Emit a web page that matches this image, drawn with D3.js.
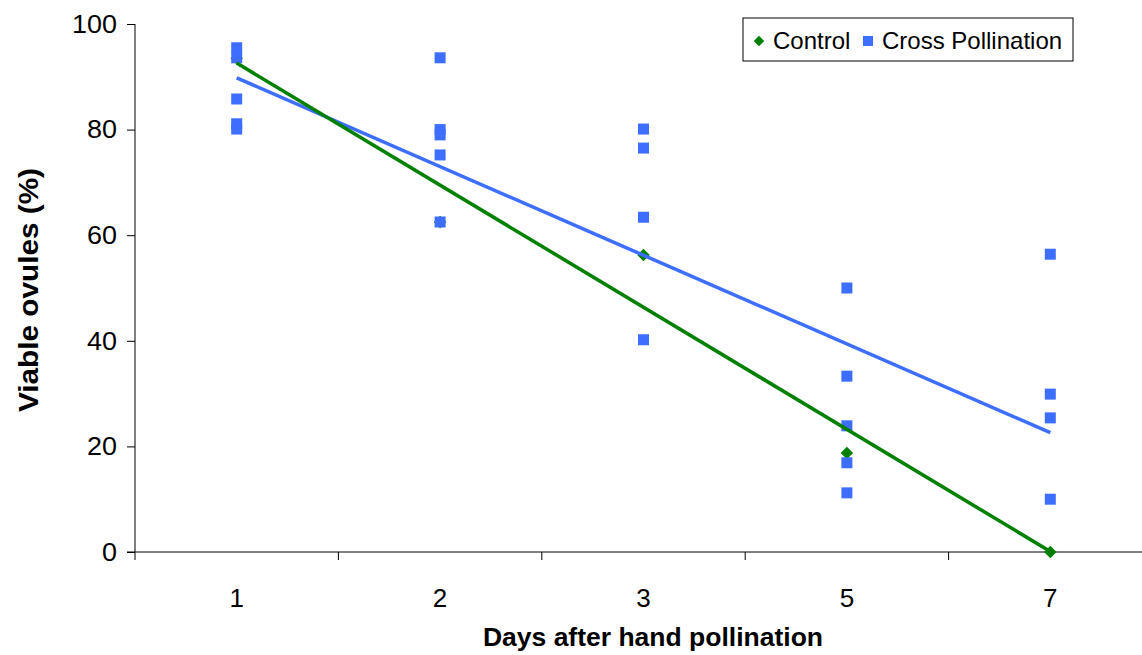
<!DOCTYPE html>
<html>
<head>
<meta charset="utf-8">
<script src="https://cdn.jsdelivr.net/npm/d3@7"></script>
<style>
  body { margin: 0; background: #fff; }
  svg { display: block; font-family: "Liberation Sans", Arial, sans-serif; }
</style>
</head>
<body>
<div id="chart"></div>
<script>
// days after pollination (categorical axis)
var days = ["1", "2", "3", "5", "7"];
// control: one value per day
var controlValues = [93.5, 62.5, 56.25, 18.75, 0];
// cross pollination: several samples per day
var crossValues = [
    [95.5, 93.6, 85.8, 81.1, 80.1],
    [93.6, 80.0, 79.0, 75.2, 62.5],
    [80.1, 76.5, 63.4, 40.2],
    [50.0, 33.3, 23.9, 16.9, 11.2],
    [56.4, 29.9, 25.4, 10.0]
];
// linear trend lines, value at first and last day
var controlTrend = [92.6, 0.1];
var crossTrend = [89.8, 22.6];
var yTicks = [0, 20, 40, 60, 80, 100];
var seriesNames = ["Control", "Cross Pollination"];

var W = 1142, H = 655;
var margin = {top: 24, right: -10, bottom: 103, left: 135};
var green = "#008000", blue = "#3D6EFF";

var svg = d3.select("#chart").append("svg").attr("width", W).attr("height", H);
var g = svg.append("g").attr("transform", "translate(" + margin.left + "," + margin.top + ")");
var w = W - margin.left - margin.right;
var h = H - margin.top - margin.bottom;

var x = d3.scaleBand().domain(days).range([0, w]).padding(0);
var y = d3.scaleLinear().domain([0, 100]).range([h, 0]);
function cx(d) { return x(d) + x.bandwidth() / 2; }

// axes
var yAxis = g.append("g")
    .call(d3.axisLeft(y).tickValues(yTicks).tickSize(8).tickPadding(10));
yAxis.select(".domain").attr("stroke", "#000").attr("d", "M0," + h + "V0");
yAxis.selectAll("text").attr("font-size", 26).attr("fill", "#000")
    .attr("font-family", "Liberation Sans, Arial, sans-serif")
    .attr("textLength", function(d) { return String(d).length * 15; })
    .attr("lengthAdjust", "spacingAndGlyphs");

var xAxis = g.append("g").attr("transform", "translate(0," + h + ")")
    .call(d3.axisBottom(x).tickSize(0).tickPadding(37));
xAxis.select(".domain").attr("stroke", "#000").attr("d", "M-8,0H" + w);
xAxis.selectAll("text").attr("font-size", 26).attr("fill", "#000")
    .attr("font-family", "Liberation Sans, Arial, sans-serif");
// tick marks between categories
xAxis.selectAll(".sep").data(days).enter().append("line")
    .attr("x1", function(d) { return x(d); }).attr("x2", function(d) { return x(d); })
    .attr("y1", 0).attr("y2", 8).attr("stroke", "#000");

// axis titles
g.append("text")
    .attr("x", 653 - margin.left).attr("y", h + 94)
    .attr("text-anchor", "middle").attr("font-size", 26.5).attr("font-weight", "bold")
    .text("Days after hand pollination");
g.append("text")
    .attr("transform", "translate(" + (-97) + "," + (290 - margin.top) + ") rotate(-90)")
    .attr("text-anchor", "middle").attr("font-size", 27).attr("font-weight", "bold")
    .attr("textLength", 244).attr("lengthAdjust", "spacingAndGlyphs")
    .text("Viable ovules (%)");

// markers
var diamond = d3.symbol().type(d3.symbolDiamond2).size(100);
g.append("g").selectAll("path").data(controlValues).enter().append("path")
    .attr("d", diamond)
    .attr("transform", function(d, i) { return "translate(" + cx(days[i]) + "," + y(d) + ")"; })
    .attr("fill", green);

var crossPts = [];
crossValues.forEach(function(vals, i) {
    vals.forEach(function(v) { crossPts.push({day: days[i], v: v}); });
});
g.append("g").selectAll("rect").data(crossPts).enter().append("rect")
    .attr("x", function(d) { return cx(d.day) - 5.5; })
    .attr("y", function(d) { return y(d.v) - 5.5; })
    .attr("width", 11).attr("height", 11)
    .attr("fill", blue);

// trend lines
var line = d3.line().x(function(d) { return cx(d[0]); }).y(function(d) { return y(d[1]); });
g.append("path")
    .datum([[days[0], crossTrend[0]], [days[days.length - 1], crossTrend[1]]])
    .attr("d", line).attr("stroke", blue).attr("stroke-width", 3.5).attr("fill", "none");
g.append("path")
    .datum([[days[0], controlTrend[0]], [days[days.length - 1], controlTrend[1]]])
    .attr("d", line).attr("stroke", green).attr("stroke-width", 3.5).attr("fill", "none");

// legend
var lg = svg.append("g").attr("transform", "translate(743,18)");
lg.append("rect").attr("width", 330).attr("height", 43)
    .attr("fill", "#fff").attr("stroke", "#000").attr("stroke-width", 1);
lg.append("path").attr("d", d3.symbol().type(d3.symbolDiamond2).size(70)).attr("transform", "translate(16,23)").attr("fill", green);
lg.append("text").attr("x", 30).attr("y", 31).attr("font-size", 24).text(seriesNames[0]);
lg.append("rect").attr("x", 120).attr("y", 18).attr("width", 10).attr("height", 10).attr("fill", blue);
lg.append("text").attr("x", 139).attr("y", 31).attr("font-size", 24).text(seriesNames[1]);
</script>
</body>
</html>
